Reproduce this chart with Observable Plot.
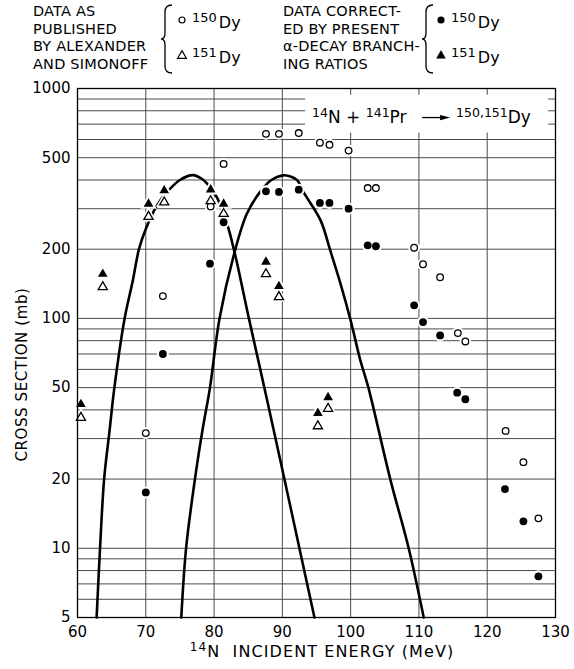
<!DOCTYPE html>
<html>
<head>
<meta charset="utf-8">
<script src="https://cdn.jsdelivr.net/npm/d3@7"></script>
<script src="https://cdn.jsdelivr.net/npm/@observablehq/plot@0.6"></script>
<style>
  html, body { margin: 0; padding: 0; background: #fff; }
  #wrap { width: 574px; height: 669px; overflow: hidden; font-family: "DejaVu Sans", sans-serif; color: #000; }
  #legend { display: block; }
  #chart svg { display: block; }
</style>
</head>
<body>
<div id="wrap">
  <svg id="legend" width="574" height="80"></svg>
  <div id="chart"></div>
</div>
<script>
// ---------- data ----------
const xTicks = [60, 70, 80, 90, 100, 110, 120, 130];
const xGrid = [70, 80, 90, 100, 110, 120];
const yTicks = [5, 10, 20, 50, 100, 200, 500, 1000];
const yGrid = [6, 7, 8, 9, 10, 20, 30, 40, 50, 60, 70, 80, 90, 100, 200, 300, 400, 500, 600, 700, 800, 900];

// 150Dy, data as published by Alexander and Simonoff (open circles)
const dy150Published = [
  [70.0, 31.7], [72.5, 125], [79.5, 307], [81.4, 470], [87.6, 635], [89.5, 635], [92.4, 640],
  [95.5, 581], [96.9, 569], [99.7, 537], [102.5, 369], [103.7, 369], [109.3, 203], [110.6, 172],
  [113.1, 151], [115.7, 86.3], [116.8, 79.4], [122.7, 32.4], [125.3, 23.7], [127.5, 13.5]
];
// 150Dy, corrected (filled circles)
const dy150Corrected = [
  [70.0, 17.5], [72.5, 70], [79.4, 173], [81.4, 262], [87.6, 357], [89.5, 355], [92.4, 363],
  [95.5, 318], [96.9, 318], [99.7, 300], [102.5, 208], [103.7, 206], [109.3, 114], [110.6, 96.4],
  [113.1, 84.3], [115.6, 47.5], [116.8, 44.5], [122.6, 18.1], [125.3, 13.1], [127.5, 7.55]
];
// 151Dy, published (open triangles)
const dy151Published = [
  [60.5, 37], [63.7, 137], [70.4, 277], [72.7, 320], [79.5, 324], [81.4, 285],
  [87.6, 156], [89.5, 124], [95.2, 34], [96.7, 40.5]
];
// 151Dy, corrected (filled triangles)
const dy151Corrected = [
  [60.5, 42.3], [63.7, 156], [70.4, 315], [72.7, 360], [79.5, 363], [81.4, 315],
  [87.6, 176], [89.5, 138], [95.2, 38.7], [96.7, 45.3]
];
// calculated excitation functions (solid curves)
const curve151 = [
  [62.8, 5], [63.3, 10], [63.9, 20], [64.7, 32.6], [65.4, 50], [66.9, 100], [68.1, 146], [69.0, 200],
  [70.0, 245], [71.5, 305], [73.1, 354], [75.0, 400], [76.9, 420], [78.2, 405], [79.2, 379], [80.4, 337],
  [81.9, 258], [83.0, 194], [85.1, 100], [86.8, 59.4], [88.8, 32], [90.3, 20], [92.5, 10], [94.7, 5]
];
const curve150 = [
  [75.2, 5], [75.9, 10], [77.2, 20], [78.3, 32.6], [79.4, 50], [80.8, 100], [83.0, 194], [84.8, 285],
  [86.8, 357], [88.4, 400], [90.2, 419], [91.4, 412], [92.2, 398], [93.1, 354], [95.6, 267], [97.0, 198],
  [98.5, 142], [100.0, 98], [101.4, 66], [102.6, 50], [105.8, 20], [108.5, 10], [110.7, 5]
];
// white box holding the reaction label (data units)
const reactionBox = {x1: 93.4, x2: 129.0, y1: 935, y2: 640};

const X = d => d[0], Y = d => d[1];
const FONT = "DejaVu Sans";

const plot = Plot.plot({
  width: 574,
  height: 589,
  marginLeft: 77,
  marginRight: 19,
  marginTop: 8,
  marginBottom: 52,
  style: {fontFamily: FONT, fontSize: "14px", color: "#000", background: "#fff", overflow: "visible"},
  x: {domain: [60, 130], label: null, axis: null},
  y: {type: "log", domain: [5, 1000], label: null, axis: null},
  marks: [
    Plot.ruleY(yGrid, {stroke: "#4a4a4a", strokeWidth: 1}),
    Plot.ruleX(xGrid, {stroke: "#4a4a4a", strokeWidth: 1}),
    Plot.line(curve151, {x: X, y: Y, curve: "catmull-rom", stroke: "#000", strokeWidth: 2.6}),
    Plot.line(curve150, {x: X, y: Y, curve: "catmull-rom", stroke: "#000", strokeWidth: 2.6}),
    // white halos so the curves break around the points
    Plot.dot([...dy150Published, ...dy150Corrected], {x: X, y: Y, r: 4, fill: "#fff", stroke: "#fff", strokeWidth: 4}),
    Plot.dot([...dy151Published, ...dy151Corrected], {x: X, y: Y, r: 3.6, symbol: "triangle", fill: "#fff", stroke: "#fff", strokeWidth: 4}),
    Plot.dot(dy150Published, {x: X, y: Y, r: 3.3, fill: "#fff", stroke: "#000", strokeWidth: 1.3}),
    Plot.dot(dy150Corrected, {x: X, y: Y, r: 3.9, fill: "#000", stroke: "none"}),
    Plot.dot(dy151Published, {x: X, y: Y, r: 3.4, symbol: "triangle", fill: "#fff", stroke: "#000", strokeWidth: 1.3}),
    Plot.dot(dy151Corrected, {x: X, y: Y, r: 3.6, symbol: "triangle", fill: "#000", stroke: "none"}),
    Plot.frame({stroke: "#000", strokeWidth: 1.3}),
    Plot.axisX({ticks: xTicks, tickSize: 0, tickPadding: 9, tickFormat: d => String(d), label: null, fontSize: 15}),
    Plot.text(yTicks, {y: d => d, text: d => String(d), frameAnchor: "left", textAnchor: "end", dx: -7, fontSize: 15})
  ]
});
document.getElementById("chart").appendChild(plot);

// ---------- text annotations ----------
const svg = d3.select(plot);
const sx = plot.scale("x"), sy = plot.scale("y");
const fx0 = sx.apply(60), fx1 = sx.apply(130), fyBottom = sy.apply(5);

// x axis label
const xl = svg.append("text")
  .attr("x", (fx0 + fx1) / 2 + 6).attr("y", fyBottom + 40)
  .attr("text-anchor", "middle").attr("font-family", FONT).attr("font-size", 16)
  .attr("letter-spacing", 1.1).attr("fill", "#000");
xl.append("tspan").attr("font-size", 12).attr("dy", -6).text("14");
xl.append("tspan").attr("dy", 6).text("N  INCIDENT ENERGY (MeV)");

// y axis label
svg.append("text")
  .attr("transform", `translate(27, ${(sy.apply(1000) + fyBottom) / 2 + 22}) rotate(-90)`)
  .attr("text-anchor", "middle").attr("font-family", FONT).attr("font-size", 15)
  .attr("letter-spacing", 0.6).attr("fill", "#000")
  .text("CROSS SECTION (mb)");

// reaction label inside a white box
const bx = sx.apply(reactionBox.x1), bx2 = sx.apply(reactionBox.x2);
const byTop = sy.apply(reactionBox.y1), by = sy.apply(reactionBox.y2);
svg.append("rect").attr("x", bx).attr("y", byTop).attr("width", bx2 - bx).attr("height", by - byTop).attr("fill", "#fff");
const r1 = svg.append("text").attr("x", bx + 7).attr("y", by - 10).attr("text-anchor", "start")
  .attr("font-family", FONT).attr("font-size", 17).attr("fill", "#000");
r1.append("tspan").attr("font-size", 12.5).attr("dy", -6).text("14");
r1.append("tspan").attr("dy", 6).text("N + ");
r1.append("tspan").attr("font-size", 12.5).attr("dy", -6).text("141");
r1.append("tspan").attr("dy", 6).text("Pr");
const ax0 = bx + 117, ax1 = bx + 145, ay = by - 15;
svg.append("path").attr("d", `M${ax0},${ay}H${ax1 - 8}`).attr("stroke", "#000").attr("stroke-width", 1.3);
svg.append("path").attr("d", `M${ax1 - 10},${ay - 2.6}L${ax1},${ay}L${ax1 - 10},${ay + 2.6}Z`).attr("fill", "#000");
const r2 = svg.append("text").attr("x", ax1 + 6).attr("y", by - 10).attr("text-anchor", "start")
  .attr("font-family", FONT).attr("font-size", 17).attr("fill", "#000");
r2.append("tspan").attr("font-size", 12.5).attr("dy", -6).text("150,151");
r2.append("tspan").attr("dy", 6).text("Dy");

// ---------- legend ----------
const legendLeft = ["DATA AS", "PUBLISHED", "BY ALEXANDER", "AND SIMONOFF"];
const legendRight = ["DATA CORRECT-", "ED BY PRESENT", "\u03b1-DECAY BRANCH-", "ING RATIOS"];
const lg = d3.select("#legend");
function textBlock(lines, x) {
  lines.forEach((s, i) => {
    lg.append("text").attr("x", x).attr("y", 16 + i * 17.5)
      .attr("font-family", FONT).attr("font-size", 14.5).attr("letter-spacing", 0.2).text(s);
  });
}
function brace(x) {
  const t = 5, m = 39, b = 73, w = 7;
  lg.append("path")
    .attr("d", `M${x + w},${t} Q${x},${t} ${x},${t + 7} L${x},${m - 6} Q${x},${m} ${x - 4},${m} Q${x},${m} ${x},${m + 6} L${x},${b - 7} Q${x},${b} ${x + w},${b}`)
    .attr("fill", "none").attr("stroke", "#000").attr("stroke-width", 1.3);
}
function entry(x, y, kind, iso) {
  if (kind === "oc") lg.append("circle").attr("cx", x).attr("cy", y).attr("r", 3).attr("fill", "#fff").attr("stroke", "#000").attr("stroke-width", 1.2);
  if (kind === "fc") lg.append("circle").attr("cx", x).attr("cy", y).attr("r", 3.6).attr("fill", "#000");
  if (kind === "ot" || kind === "ft") {
    const s = 4.4;
    lg.append("path").attr("d", `M${x},${y - s}L${x + s},${y + s * 0.75}L${x - s},${y + s * 0.75}Z`)
      .attr("fill", kind === "ft" ? "#000" : "#fff").attr("stroke", "#000").attr("stroke-width", kind === "ft" ? 0.5 : 1.2);
  }
  const t = lg.append("text").attr("x", x + 10).attr("y", y + 8).attr("font-family", FONT).attr("font-size", 16);
  t.append("tspan").attr("font-size", 13).attr("dy", -6).text(iso);
  t.append("tspan").attr("dx", 2).attr("dy", 6).text("Dy");
}
textBlock(legendLeft, 33);
brace(165);
entry(182, 20, "oc", "150");
entry(182, 55, "ot", "151");
textBlock(legendRight, 283);
brace(426);
entry(441, 20, "fc", "150");
entry(441, 55, "ft", "151");
</script>
</body>
</html>
